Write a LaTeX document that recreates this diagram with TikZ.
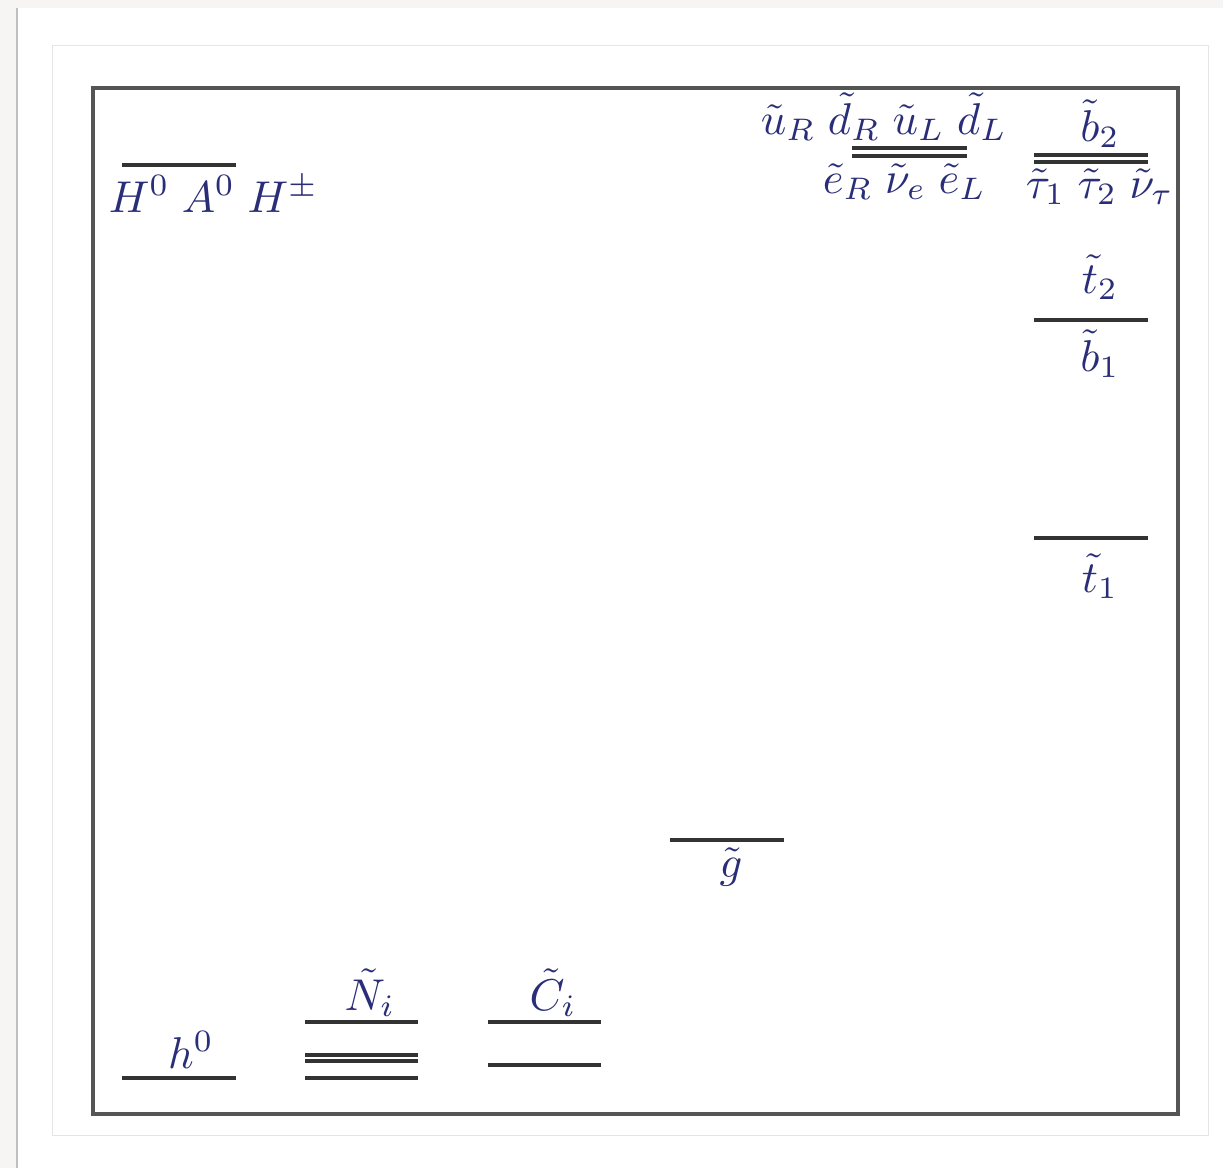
\documentclass[tikz,border=0pt]{standalone}
\usepackage{xcolor}
\definecolor{bgc}{HTML}{F6F5F3}
\definecolor{txt}{HTML}{2A2E78}
\definecolor{lvl}{HTML}{333333}
\definecolor{frm}{HTML}{555555}
\newcommand{\gp}{\mskip5mu}
\begin{document}
\begin{tikzpicture}[x=0.03cm,y=-0.03cm,
  lbl/.style={text=txt,font=\normalsize,scale=3.8,inner sep=0pt,anchor=base},
  lblw/.style={lbl,anchor=base west},
  level/.style={draw=lvl,line width=3pt},
  frame/.style={draw=frm,line width=3.2pt}]
\useasboundingbox (0,0) rectangle (1223,1168);
\fill[bgc] (0,0) rectangle (1223,1168);
\fill[white] (17,8) rectangle (1223,1168);
\draw[black!25,line width=1.5pt] (17,8) -- (17,1168);
\draw[black!10,line width=0.8pt] (52,45) rectangle (1208,1135);
\begin{scope}
\clip (0,0) rectangle (1178,1168);
% Higgs
\draw[level] (122,165) -- ++(114,0);
\node[lblw] (Hh) at (108,212) {$H^0\gp A^0\gp H^\pm$};
% squarks / sleptons (first gens)
\draw[level] (852,148) -- ++(115,0);
\draw[level] (852,156) -- ++(115,0);
\node[lblw] (sq) at (760,134) {$\tilde u_R\gp\tilde d_R\gp\tilde u_L\gp\tilde d_L$};
\node[lblw] (sl) at (822,193) {$\tilde e_R\gp\tilde \nu_e\gp\tilde e_L$};
% b2 / stau
\draw[level] (1034,155) -- ++(114,0);
\draw[level] (1034,162) -- ++(114,0);
\node[lbl] (b2) at (1100,141) {$\tilde b_2$};
\node[lblw] (st) at (1025,198) {$\tilde \tau_1\gp\tilde \tau_2\gp\tilde \nu_\tau$};
% t2 / b1
\draw[level] (1034,320) -- ++(114,0);
\node[lbl] (t2) at (1100,293) {$\tilde t_2$};
\node[lbl] (b1) at (1100,371) {$\tilde b_1$};
% t1
\draw[level] (1034,538) -- ++(114,0);
\node[lbl] (t1) at (1100,592) {$\tilde t_1$};
% gluino
\draw[level] (670,840) -- ++(114,0);
\node[lbl] (gl) at (731,877) {$\tilde g$};
% h0
\draw[level] (122,1078) -- ++(114,0);
\node[lbl] (h0) at (191,1068) {$h^0$};
% neutralinos
\draw[level] (305,1022) -- ++(113,0);
\draw[level] (305,1055) -- ++(113,0);
\draw[level] (305,1061) -- ++(113,0);
\draw[level] (305,1078) -- ++(113,0);
\node[lbl] (Ni) at (370,1010) {$\tilde N_i$};
% charginos
\draw[level] (488,1022) -- ++(113,0);
\draw[level] (488,1065) -- ++(113,0);
\node[lbl] (Ci) at (553,1010) {$\tilde C_i$};
\end{scope}
\draw[frame] (93,88) rectangle (1178,1114);
\end{tikzpicture}
\end{document}
